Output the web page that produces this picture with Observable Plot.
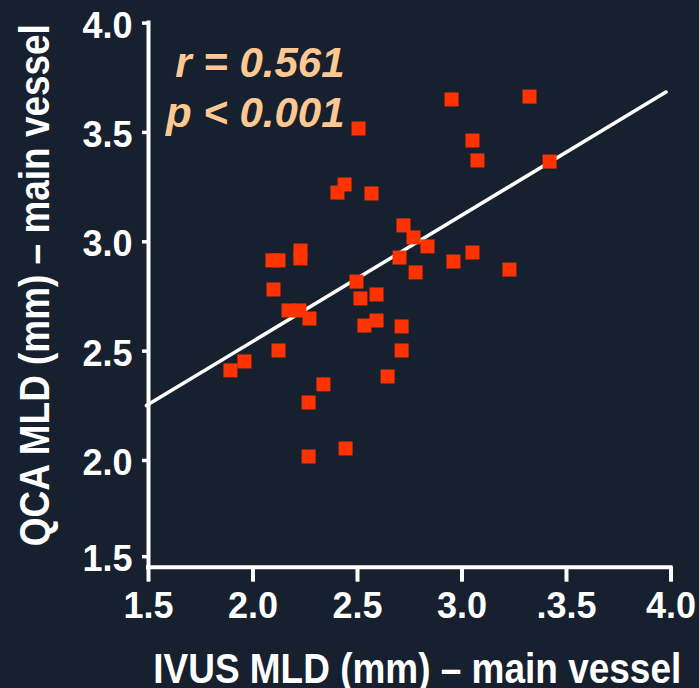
<!DOCTYPE html>
<html>
<head>
<meta charset="utf-8">
<script src="https://cdn.jsdelivr.net/npm/d3@7"></script>
<script src="https://cdn.jsdelivr.net/npm/@observablehq/plot@0.6"></script>
<style>
  html, body { margin: 0; padding: 0; background: #16202e; }
  #chart svg { display: block; }
</style>
</head>
<body>
<div id="chart"></div>
<script>
// IVUS MLD (x) and QCA MLD (y), main vessel, mm
const ivus = [2.950, 3.323, 2.505, 3.050, 3.074, 3.419, 2.438, 2.404, 2.567, 2.720,
              2.768, 2.835, 2.701, 2.778, 2.959, 3.050, 3.227, 2.093, 2.122, 2.227,
              2.227, 2.098, 2.495, 2.514, 2.591, 2.170, 2.222, 2.270, 2.533, 2.591,
              2.711, 2.711, 2.122, 1.959, 1.892, 2.337, 2.266, 2.644, 2.266, 2.443];
const qca  = [3.651, 3.664, 3.518, 3.463, 3.372, 3.367, 3.262, 3.225, 3.221, 3.075,
              3.020, 2.979, 2.928, 2.860, 2.910, 2.951, 2.873, 2.915, 2.915, 2.960,
              2.924, 2.782, 2.818, 2.741, 2.759, 2.686, 2.686, 2.649, 2.617, 2.640,
              2.613, 2.503, 2.503, 2.453, 2.412, 2.348, 2.265, 2.384, 2.018, 2.055];

// regression line end points
const fitX = [1.49, 3.976];
const fitY = [2.251, 3.685];

// axes
const xDomain = [1.5, 4.0];
const yDomain = [1.512, 4.0];
const xTicks = [1.5, 2.0, 2.5, 3.0, 3.5, 4.0];
const xTickLabels = ["1.5", "2.0", "2.5", "3.0", ".3.5", "4.0"];
const yTicks = [4.0, 3.5, 3.0, 2.5, 2.0, 1.56];
const yTickLabels = ["4.0", "3.5", "3.0", "2.5", "2.0", "1.5"];

const stats = ["r = 0.561", "p < 0.001"];
const xTitle = "IVUS MLD (mm) – main vessel";
const yTitle = "QCA MLD (mm) – main vessel";

const points = ivus.map((x, i) => ({x, y: qca[i]}));
const fit = fitX.map((x, i) => ({x, y: fitY[i]}));

const font = "'Liberation Sans', Arial, Helvetica, sans-serif";

const chart = Plot.plot({
  width: 699,
  height: 688,
  marginLeft: 148,
  marginRight: 28.5,
  marginTop: 22.6,
  marginBottom: 121.3,
  x: {domain: xDomain, axis: null},
  y: {domain: yDomain, axis: null},
  style: {background: "#16202e", color: "white", fontFamily: font, fontWeight: "bold", overflow: "visible"},
  marks: [
    Plot.ruleX([xDomain[0]], {stroke: "white", strokeWidth: 4, strokeLinecap: "square"}),
    Plot.ruleY([yDomain[0]], {stroke: "white", strokeWidth: 4, strokeLinecap: "square"}),
    Plot.axisX(xTicks, {anchor: "bottom", tickSize: 15, tickPadding: 10, strokeWidth: 4,
      fontSize: 36, fontWeight: "bold", fill: "white", stroke: "white",
      tickFormat: d => xTickLabels[xTicks.indexOf(d)], label: null}),
    Plot.axisY(yTicks, {anchor: "left", tickSize: 6, strokeWidth: 3.5, stroke: "white",
      tickFormat: () => "", label: null}),
    Plot.axisY(yTicks, {anchor: "left", tickSize: 0, tickPadding: 16, dy: 3,
      fontSize: 36, fontWeight: "bold", fill: "white",
      tickFormat: d => yTickLabels[yTicks.indexOf(d)], label: null}),
    Plot.line(fit, {x: "x", y: "y", stroke: "white", strokeWidth: 3.5}),
    Plot.dot(points, {x: "x", y: "y", symbol: "square", r: 7.9, fill: "#ff3300"}),
    Plot.text([stats.join("\n")], {frameAnchor: "top-left", textAnchor: "end", lineAnchor: "top",
      lineHeight: 50 / 42, dx: 196, dy: 18, fontSize: 42, fontStyle: "italic", fontWeight: "bold",
      fill: "#ffc892", fontFamily: font}),
    Plot.text([xTitle], {frameAnchor: "bottom", textAnchor: "middle", lineAnchor: "middle", dx: 7.5, dy: 102,
      fontSize: 42, fontWeight: "bold", fill: "white", fontFamily: font}),
    Plot.text([yTitle], {frameAnchor: "left", textAnchor: "middle", lineAnchor: "middle", rotate: -90, dx: -113, dy: -10,
      fontSize: 42, fontWeight: "bold", fill: "white", fontFamily: font})
  ]
});

d3.select(chart).selectAll("text").each(function () {
  if (this.textContent === xTitle) {
    this.setAttribute("textLength", 528);
    this.setAttribute("lengthAdjust", "spacingAndGlyphs");
  } else if (this.textContent === yTitle) {
    this.setAttribute("textLength", 522);
    this.setAttribute("lengthAdjust", "spacingAndGlyphs");
  }
});

document.getElementById("chart").appendChild(chart);
</script>
</body>
</html>
